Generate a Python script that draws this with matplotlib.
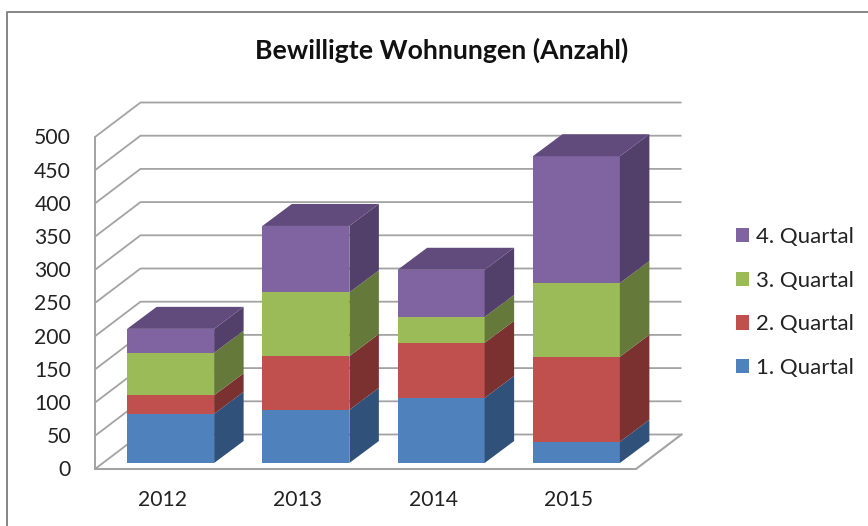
#!/usr/bin/env python3
import matplotlib
matplotlib.use('Agg')
import matplotlib.pyplot as plt
from matplotlib.lines import Line2D
from matplotlib.patches import Patch

years = ['2012', '2013', '2014', '2015']
quarters = ['1. Quartal', '2. Quartal', '3. Quartal', '4. Quartal']
q1 = [74, 80, 98, 32]
q2 = [28, 81, 83, 128]
q3 = [64, 96, 39, 111]
q4 = [36, 100, 71, 191]
y_ticks = list(range(0, 501, 50))

front_cols = ['#4F81BD', '#C0504D', '#9BBB59', '#8064A2']
side_cols = ['#30527A', '#7A3130', '#64793A', '#523F6A']
top_col = '#604B7C'
grid_col = '#A3A3A3'

W, H = 868, 526
PX_X = 135.25  # pixels per category
PX_Y = 0.664   # pixels per unit
X0, Y0 = 95, 469  # pixel position of the front floor corner

plt.rcParams['font.family'] = ['Lato', 'DejaVu Sans']
fig = plt.figure(figsize=(W / 100, H / 100), dpi=100)
ax = fig.add_axes([0, 0, 1, 1])
ax.set_xlim(-X0 / PX_X, (W - X0) / PX_X)
ax.set_ylim((Y0 - H) / PX_Y, Y0 / PX_Y)
ax.axis('off')

# depth of the walls and of the bars, in data units
wall_dx, wall_dy = 45.5 / PX_X, 34.5 / PX_Y
bar_off_x, bar_off_y = 8 / PX_X, 6 / PX_Y
bar_dx, bar_dy = 29.5 / PX_X, 22 / PX_Y
bar_w = 87 / PX_X

# grid on the walls
n = len(years)
for v in y_ticks:
    ax.plot([0, wall_dx, n + wall_dx], [v, v + wall_dy, v + wall_dy],
            color=grid_col, lw=1.3, solid_capstyle='butt', zorder=1)
ax.plot([0, 0], [0, y_ticks[-1]], color=grid_col, lw=1.4, zorder=1)
ax.plot([0, n, n + wall_dx], [0, 0, wall_dy], color=grid_col, lw=1.5, zorder=1)

# stacked 3d bars
for i, year in enumerate(years):
    x1 = i + 0.5 - bar_w / 2 + bar_off_x
    x2 = x1 + bar_w
    bottom = bar_off_y
    for j, vals in enumerate([q1, q2, q3, q4]):
        top = bottom + vals[i]
        ax.fill([x1, x2, x2, x1], [bottom, bottom, top, top],
                color=front_cols[j], lw=0, zorder=3)
        ax.fill([x2, x2 + bar_dx, x2 + bar_dx, x2],
                [bottom, bottom + bar_dy, top + bar_dy, top],
                color=side_cols[j], lw=0, zorder=3)
        bottom = top
    ax.fill([x1, x2, x2 + bar_dx, x1 + bar_dx],
            [bottom, bottom, bottom + bar_dy, bottom + bar_dy],
            color=top_col, lw=0, zorder=3)
    ax.text(i + 0.5, -46, year, ha='center', va='center', fontsize=15.2,
            color='#222222')

for v in y_ticks:
    ax.text(-24 / PX_X, v - 2, str(v), ha='right', va='center', fontsize=15.2,
            color='#222222')

handles = [Patch(color=c, lw=0) for c in front_cols[::-1]]
ax.legend(handles, quarters[::-1], loc='center left',
          bbox_to_anchor=(736 / W, 1 - 302.5 / H), frameon=False, fontsize=16,
          labelspacing=1.07, handlelength=0.6, handleheight=0.6,
          handletextpad=0.3, borderpad=0, borderaxespad=0,
          labelcolor='#222222')

fig.text(442 / W, 1 - 50 / H, 'Bewilligte Wohnungen (Anzahl)', ha='center',
         va='center', fontsize=19.2, fontweight='bold', color='#111111')

# chart frame, open at the bottom and on the right
fig.add_artist(Line2D([7 / W, 7 / W, 1], [0, 1 - 12 / H, 1 - 12 / H],
                      color='#868686', lw=1.4))

fig.savefig('out.png', dpi=100)
